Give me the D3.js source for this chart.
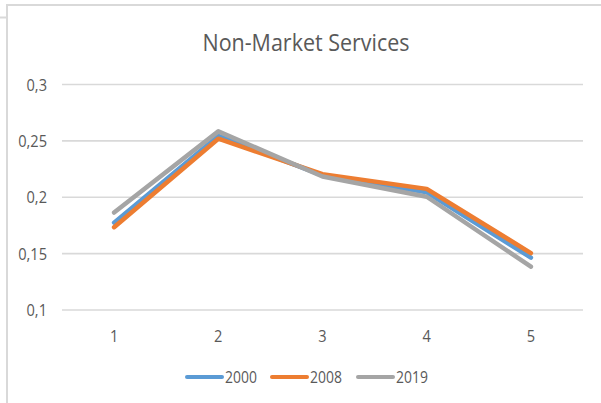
<!DOCTYPE html>
<html>
<head>
<meta charset="utf-8">
<script src="https://cdn.jsdelivr.net/npm/d3@7"></script>
<style>
  html, body { margin: 0; padding: 0; background: #fff; }
  svg { display: block; }
  text { font-family: "Open Sans", sans-serif; fill: #595959; }
</style>
</head>
<body>
<svg id="chart" width="601" height="403"></svg>
<script>
// Chart data
const categories = ["1", "2", "3", "4", "5"];
const seriesNames = ["2000", "2008", "2019"];
const values2000 = [0.177, 0.254, 0.219, 0.204, 0.146];
const values2008 = [0.173, 0.2515, 0.220, 0.207, 0.150];
const values2019 = [0.186, 0.258, 0.218, 0.200, 0.138];
const yTicks = [0.1, 0.15, 0.2, 0.25, 0.3];
const yTickLabels = ["0,1", "0,15", "0,2", "0,25", "0,3"];
const colors = ["#5B9BD5", "#ED7D31", "#A5A5A5"];
const title = "Non-Market Services";

const series = [values2000, values2008, values2019].map((v, i) => ({
  name: seriesNames[i], color: colors[i], values: v
}));

const svg = d3.select("#chart");
const W = 601, H = 403;
const plot = { left: 62, right: 583, top: 84, bottom: 309.5 };
// narrow the text horizontally for a condensed look
const SX_TITLE = 0.895, SX_TICK = 0.86, SX_LEGEND = 0.82;

// Outer frame
const frame = svg.append("g").attr("stroke", "#d9d9d9").attr("stroke-width", 2).attr("fill", "none");
frame.append("path").attr("d", `M7,${H} V5 H${W}`);
frame.append("path").attr("d", "M0,17.5 H7");

// Scales
const x = d3.scaleBand().domain(categories).range([plot.left, plot.right]);
const y = d3.scaleLinear().domain([0.1, 0.3]).range([plot.bottom, plot.top]);

// Title
svg.append("text")
  .attr("transform", `translate(306,51) scale(${SX_TITLE},1)`)
  .attr("text-anchor", "middle")
  .attr("font-size", 24)
  .text(title);

// Horizontal gridlines with value labels
const yAxis = d3.axisLeft(y)
  .tickValues(yTicks)
  .tickSize(-(plot.right - plot.left))
  .tickPadding(15)
  .tickFormat((d, i) => yTickLabels[i]);
const gy = svg.append("g").attr("transform", `translate(${plot.left},0)`).call(yAxis);
gy.select(".domain").remove();
gy.selectAll(".tick line").attr("stroke", "#d9d9d9").attr("stroke-width", 1.6);
gy.selectAll(".tick text")
  .attr("font-size", 17)
  .attr("font-family", null)
  .attr("fill", "#595959")
  .attr("x", -15 / SX_TICK)
  .attr("transform", `scale(${SX_TICK},1)`)
  .attr("dy", "0.36em");

// Category labels
const xAxis = d3.axisBottom(x).tickSize(0).tickPadding(20);
const gx = svg.append("g").attr("transform", `translate(0,${plot.bottom})`).call(xAxis);
gx.select(".domain").remove();
gx.selectAll(".tick text")
  .attr("font-size", 17)
  .attr("font-family", null)
  .attr("fill", "#595959")
  .attr("transform", `scale(${SX_TICK},1)`);

// Series lines
const line = d3.line()
  .x((d, i) => x(categories[i]) + x.bandwidth() / 2)
  .y(d => y(d));

svg.append("g").selectAll("path")
  .data(series)
  .join("path")
  .attr("d", d => line(d.values))
  .attr("fill", "none")
  .attr("stroke", d => d.color)
  .attr("stroke-width", 4.5)
  .attr("stroke-linecap", "round")
  .attr("stroke-linejoin", "round");

// Legend
const legendX = [187, 272, 358];
const legendY = 377;
const lg = svg.append("g").selectAll("g")
  .data(series)
  .join("g")
  .attr("transform", (d, i) => `translate(${legendX[i]},${legendY})`);
lg.append("line")
  .attr("x1", 0).attr("x2", 35)
  .attr("stroke", d => d.color)
  .attr("stroke-width", 4)
  .attr("stroke-linecap", "round");
lg.append("text")
  .attr("transform", `translate(38,0) scale(${SX_LEGEND},1)`)
  .attr("dy", "0.36em")
  .attr("font-size", 17)
  .text(d => d.name);
</script>
</body>
</html>
